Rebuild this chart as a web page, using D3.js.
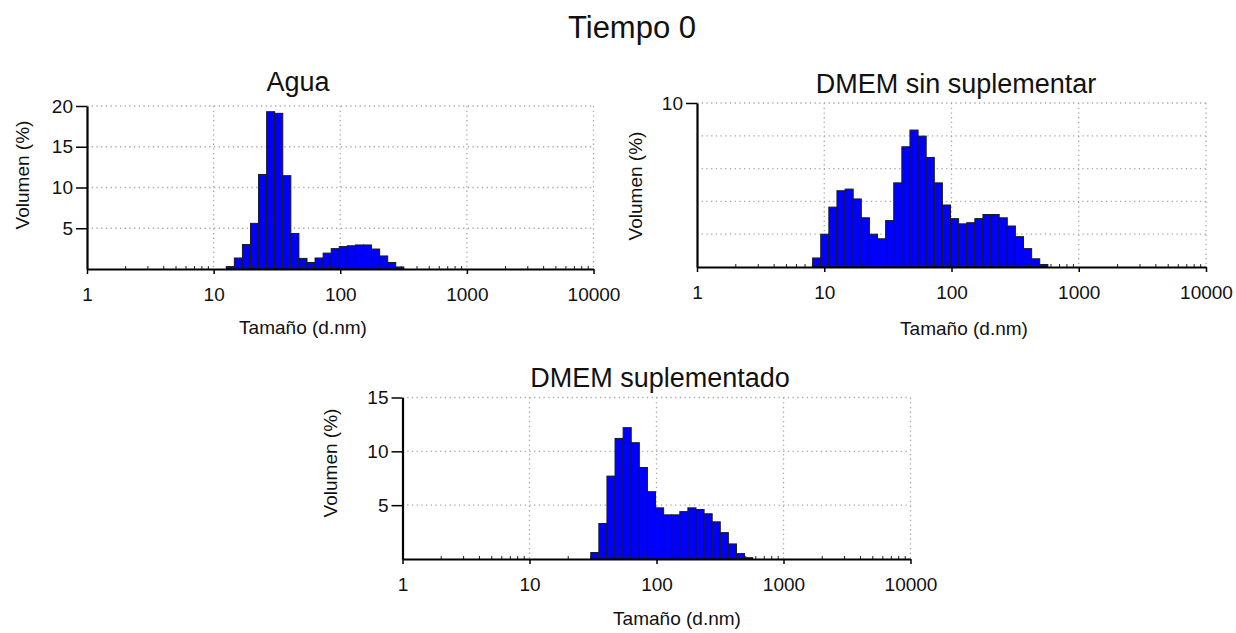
<!DOCTYPE html>
<html>
<head>
<meta charset="utf-8">
<script src="https://cdn.jsdelivr.net/npm/d3@7"></script>
<style>
  body { margin: 0; background: #fff; }
  svg text { font-family: "Liberation Sans", Arial, sans-serif; fill: #111; }
</style>
</head>
<body>
<svg id="chart"></svg>
<script>
// size classes (d.nm) of the instrument, one bar per class
const sizes = [
  0.4, 0.4632, 0.5365, 0.6213, 0.7195, 0.8332, 0.9649, 1.117, 1.294, 1.499,
  1.736, 2.01, 2.328, 2.696, 3.122, 3.615, 4.187, 4.849, 5.615, 6.503,
  7.531, 8.721, 10.1, 11.7, 13.54, 15.69, 18.17, 21.04, 24.36, 28.21,
  32.67, 37.84, 43.82, 50.75, 58.77, 68.06, 78.82, 91.28, 105.7, 122.4,
  141.8, 164.2, 190.1, 220.2, 255.0, 295.3, 342.0, 396.1, 458.7, 531.2,
  615.1, 712.4, 825.0, 955.4, 1106, 1281, 1484, 1718, 1990, 2305,
  2669, 3091, 3580, 4145, 4801, 5560, 6439, 7456, 8635, 10000
];

// Volumen (%) per size class
const agua = [
  0, 0, 0, 0, 0, 0, 0, 0, 0, 0,
  0, 0, 0, 0, 0, 0, 0, 0, 0, 0,
  0, 0, 0, 0, 0.3, 1.35, 3.0, 5.6, 11.6, 19.3,
  19.1, 11.45, 4.35, 1.3, 0.8, 1.35, 1.95, 2.5, 2.75, 2.85,
  2.95, 2.95, 2.45, 1.6, 0.8, 0.25, 0, 0, 0, 0,
  0, 0, 0, 0, 0, 0, 0, 0, 0, 0,
  0, 0, 0, 0, 0, 0, 0, 0, 0, 0
];
const dmemSin = [
  0, 0, 0, 0, 0, 0, 0, 0, 0, 0,
  0, 0, 0, 0, 0, 0, 0, 0, 0, 0,
  0, 0.55, 2.0, 3.65, 4.65, 4.75, 4.15, 3.0, 2.0, 1.72,
  2.83, 5.13, 7.33, 8.35, 7.98, 6.68, 5.13, 3.78, 2.95, 2.63,
  2.7, 2.95, 3.2, 3.2, 3.0, 2.5, 1.85, 1.12, 0.5, 0.15,
  0, 0, 0, 0, 0, 0, 0, 0, 0, 0,
  0, 0, 0, 0, 0, 0, 0, 0, 0, 0
];
const dmemSup = [
  0, 0, 0, 0, 0, 0, 0, 0, 0, 0,
  0, 0, 0, 0, 0, 0, 0, 0, 0, 0,
  0, 0, 0, 0, 0, 0, 0, 0, 0, 0,
  0.6, 3.3, 7.7, 11.2, 12.2, 10.8, 8.5, 6.25, 4.75, 4.1,
  4.1, 4.4, 4.75, 4.6, 4.2, 3.45, 2.45, 1.4, 0.5, 0.12,
  0, 0, 0, 0, 0, 0, 0, 0, 0, 0,
  0, 0, 0, 0, 0, 0, 0, 0, 0, 0
];

const xTicks = [1, 10, 100, 1000, 10000];
const xGrid = [10, 100, 1000, 10000];
const titles = ["Agua", "DMEM sin suplementar", "DMEM suplementado"];
const yTicks = [[5, 10, 15, 20], [10], [5, 10, 15]];
const yGrid = [[5, 10, 15, 20], [2, 4, 6, 8, 10], [5, 10, 15]];
const yMax = [20, 10, 15];

const width = 1236, height = 633;
const svg = d3.select('#chart').attr('width', width).attr('height', height);

svg.append('text')
  .attr('x', 632).attr('y', 38)
  .attr('text-anchor', 'middle')
  .attr('font-size', 31)
  .text('Tiempo 0');

// placement of the three panels
const panels = [
  { values: agua, left: 87, right: 593.5, top: 106, bottom: 269,
    titleX: 298, titleY: 91, xLabX: 303, xLabY: 334, yLabX: 22, yLabY: 175 },
  { values: dmemSin, left: 697, right: 1206, top: 103, bottom: 267,
    titleX: 956, titleY: 93, xLabX: 964, xLabY: 335, yLabX: 635, yLabY: 186 },
  { values: dmemSup, left: 402.5, right: 910.5, top: 397.5, bottom: 559,
    titleX: 660, titleY: 387, xLabX: 677, xLabY: 625, yLabX: 330, yLabY: 463 }
];

panels.forEach((p, i) => {
  const x = d3.scaleLog().domain([1, 10000]).range([p.left, p.right]);
  const y = d3.scaleLinear().domain([0, yMax[i]]).range([p.bottom, p.top]);
  const g = svg.append('g');

  const clipId = 'clip' + i;
  svg.append('clipPath').attr('id', clipId)
    .append('rect')
    .attr('x', p.left).attr('y', p.top - 5)
    .attr('width', p.right - p.left).attr('height', p.bottom - p.top + 5);

  // dotted grid
  g.append('g').selectAll('line').data(yGrid[i]).join('line')
    .attr('x1', p.left).attr('x2', p.right)
    .attr('y1', d => y(d)).attr('y2', d => y(d))
    .attr('stroke', '#a8a8a8').attr('stroke-width', 1.3)
    .attr('stroke-dasharray', '1.3,3.4');
  g.append('g').selectAll('line').data(xGrid).join('line')
    .attr('x1', d => x(d)).attr('x2', d => x(d))
    .attr('y1', p.top).attr('y2', p.bottom)
    .attr('stroke', '#a8a8a8').attr('stroke-width', 1.3)
    .attr('stroke-dasharray', '1.3,3.4');

  // bars, centred on each size class, one class wide
  const bars = sizes.map((s, k) => ({
    lo: k > 0 ? Math.sqrt(sizes[k - 1] * s) : s / Math.sqrt(sizes[1] / s),
    hi: k < sizes.length - 1 ? Math.sqrt(s * sizes[k + 1]) : s * Math.sqrt(s / sizes[k - 1]),
    v: p.values[k]
  })).filter(b => b.hi > 1);

  g.append('g').attr('clip-path', `url(#${clipId})`)
    .selectAll('rect').data(bars).join('rect')
    .attr('x', b => x(b.lo))
    .attr('width', b => x(b.hi) - x(b.lo))
    .attr('y', b => y(b.v))
    .attr('height', b => y(0) - y(b.v))
    .attr('fill', '#0000ff')
    .attr('stroke', '#1a1a1a')
    .attr('stroke-width', 1);

  // minor ticks, pointing up
  const minor = x.ticks().filter(t => !xTicks.includes(t));
  g.append('g').attr('transform', `translate(0,${p.bottom})`)
    .call(d3.axisTop(x).tickValues(minor).tickSize(3).tickFormat(''))
    .call(a => a.select('.domain').remove())
    .call(a => a.selectAll('line').attr('stroke', '#222'));

  // x axis
  g.append('g').attr('transform', `translate(0,${p.bottom})`)
    .call(d3.axisBottom(x).tickValues(xTicks).tickFormat(d3.format('d'))
      .tickSize(5).tickSizeOuter(0).tickPadding(14))
    .call(a => a.select('.domain').attr('stroke', '#000').attr('stroke-width', 2.2))
    .call(a => a.selectAll('.tick line').attr('stroke', '#000').attr('stroke-width', 1.5))
    .call(a => a.selectAll('text').attr('font-size', 19)
      .attr('font-family', '"Liberation Sans", Arial, sans-serif').attr('fill', '#111'));

  // y axis
  g.append('g').attr('transform', `translate(${p.left},0)`)
    .call(d3.axisLeft(y).tickValues(yTicks[i]).tickFormat(d3.format('d'))
      .tickSize(11).tickSizeOuter(0).tickPadding(3))
    .call(a => a.select('.domain').attr('stroke', '#000').attr('stroke-width', 2.2))
    .call(a => a.selectAll('.tick line').attr('stroke', '#000').attr('stroke-width', 1.5))
    .call(a => a.selectAll('text').attr('font-size', 19)
      .attr('font-family', '"Liberation Sans", Arial, sans-serif').attr('fill', '#111'));

  // titles
  svg.append('text')
    .attr('x', p.titleX).attr('y', p.titleY)
    .attr('text-anchor', 'middle').attr('font-size', 27)
    .text(titles[i]);
  svg.append('text')
    .attr('x', p.xLabX).attr('y', p.xLabY)
    .attr('text-anchor', 'middle').attr('font-size', 19)
    .text('Tamaño (d.nm)');
  svg.append('text')
    .attr('transform', `translate(${p.yLabX},${p.yLabY}) rotate(-90)`)
    .attr('text-anchor', 'middle').attr('dominant-baseline', 'central')
    .attr('font-size', 19)
    .text('Volumen (%)');
});
</script>
</body>
</html>
